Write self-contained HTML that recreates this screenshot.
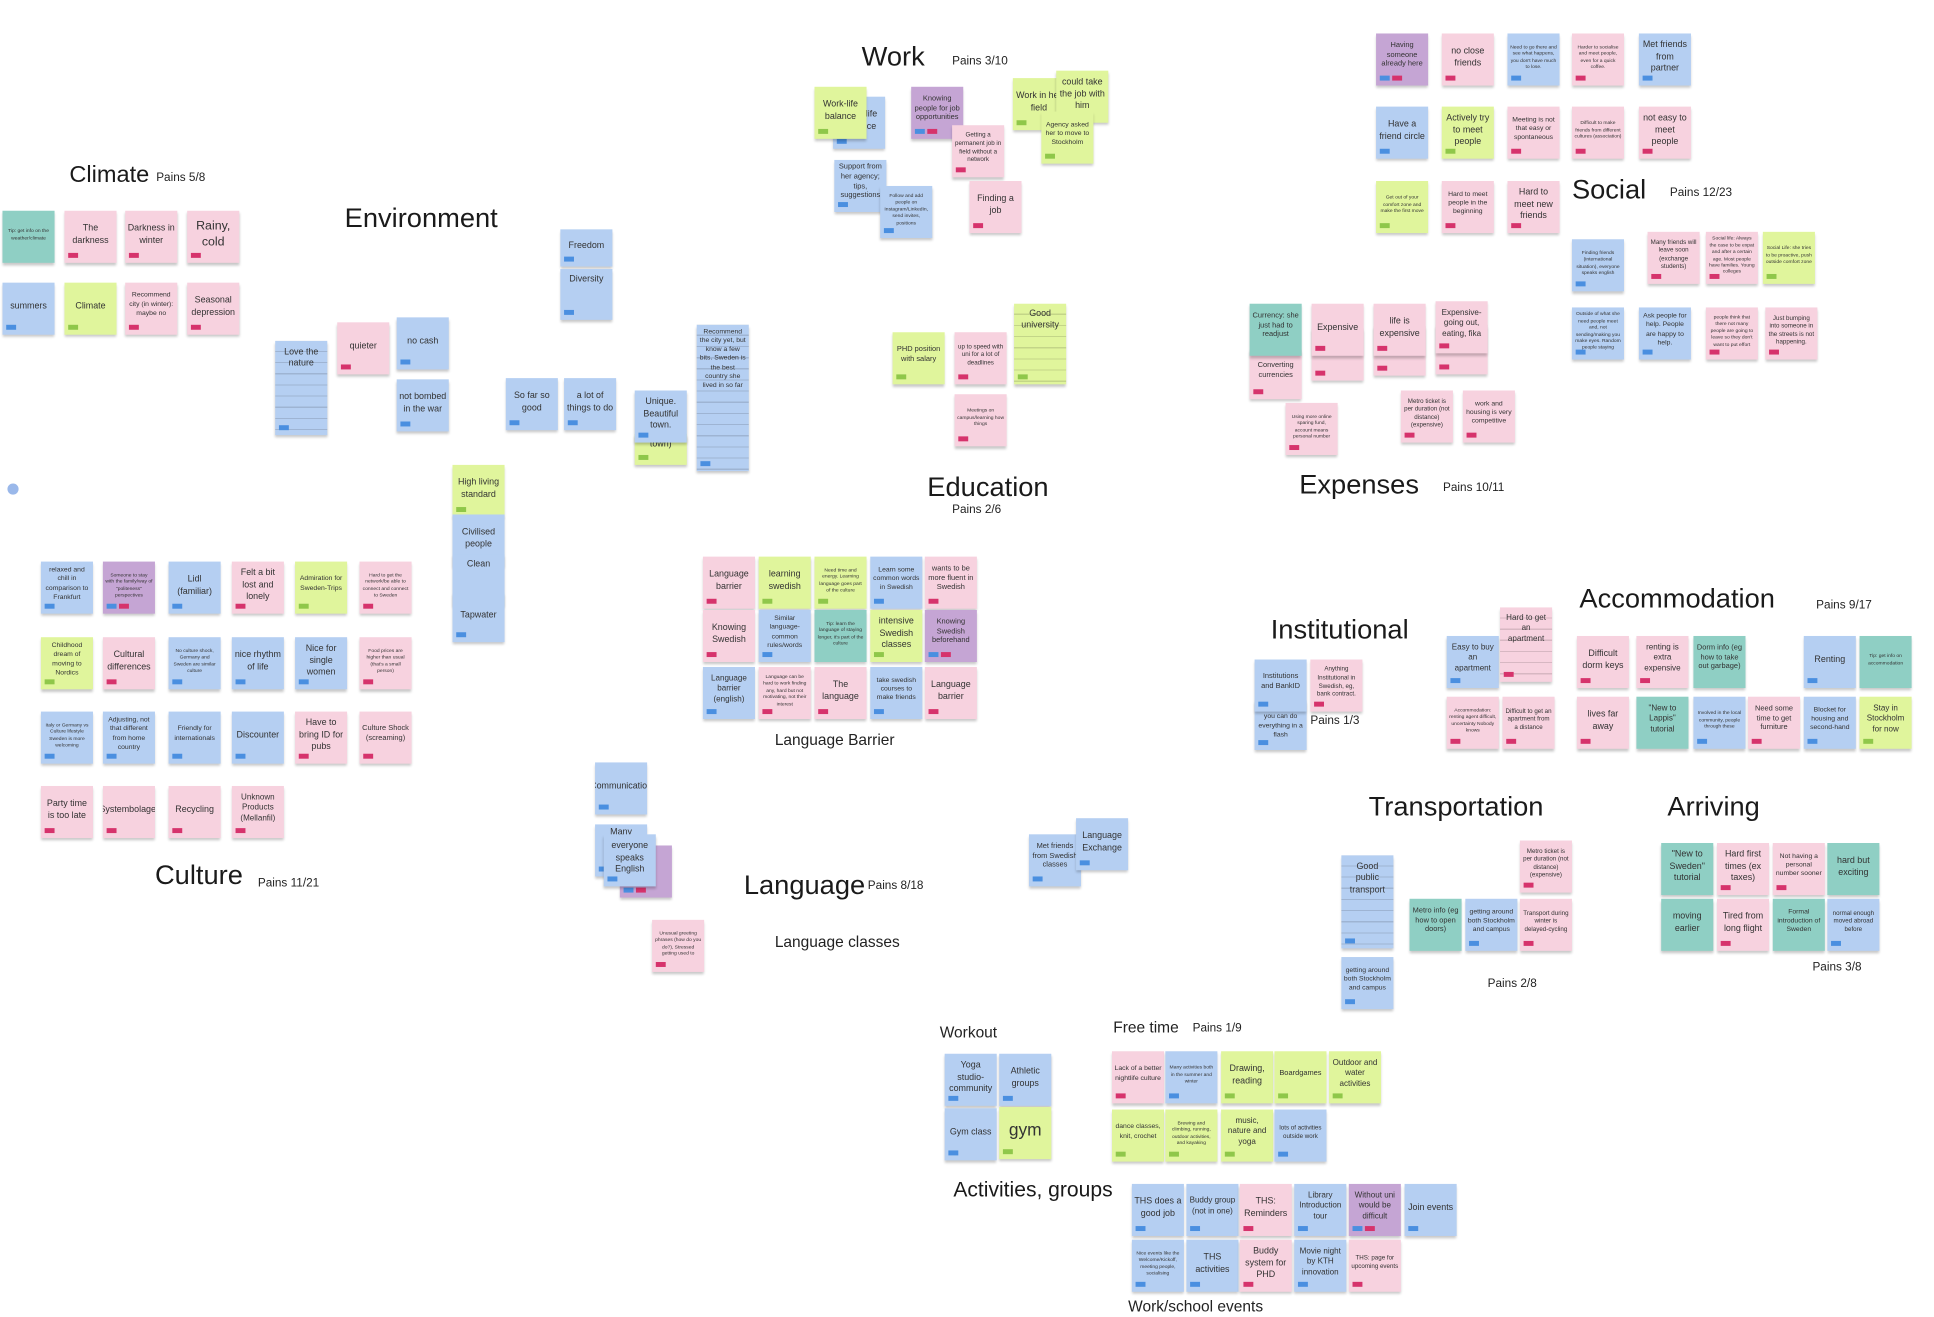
<!DOCTYPE html>
<html><head><meta charset="utf-8">
<style>
html,body{margin:0;padding:0;background:#fff;width:1934px;height:1316px;overflow:hidden}
#w{position:absolute;left:0;top:0;width:1560px;height:1062px;transform:scale(1.2397);transform-origin:0 0;font-family:"Liberation Sans","DejaVu Sans",sans-serif;color:#222}
.n{position:absolute;width:42px;height:42px;box-sizing:border-box;padding:3px 2px 8px;font-size:7.2px;line-height:1.3;text-align:center;display:flex;align-items:center;justify-content:center;box-shadow:0 2px 2px rgba(0,0,0,.22);color:#333;overflow:hidden}
.n.s{font-size:4px;line-height:1.35}
.n.l{font-size:10px}
.p{background:#f7d2df}.b{background:#b5cff2}.g{background:#e0f59c}.u{background:#c5a5d4}.t{background:#8fcfc4}
.n::after{content:"";position:absolute;left:3px;bottom:4px;width:8px;height:4px}
.p::after{background:#d6336c}.b::after{background:#4a8fe0}.g::after{background:#8fc74a}.u::after{background:#4a8fe0;box-shadow:10px 0 0 #d6336c}.t::after{display:none}
.n.x::after{display:none}
.st{background-image:repeating-linear-gradient(to bottom,transparent 0,transparent 8px,rgba(0,0,0,.13) 8px,rgba(0,0,0,.13) 9px)}
.h{position:absolute;font-size:22px;white-space:nowrap;color:#1a1a1a}
.m{position:absolute;font-size:9.5px;white-space:nowrap;color:#222}
.k{position:absolute;font-size:12.5px;white-space:nowrap;color:#222}
</style></head><body><div id="w">

<!-- Climate -->
<div class="h" style="left:56px;top:131px;font-size:19px">Climate</div><div class="m" style="left:126px;top:138px">Pains 5/8</div>
<div class="n t s" style="left:2px;top:170px">Tip: get info on the weather/climate</div>
<div class="n p" style="left:52px;top:170px">The darkness</div>
<div class="n p" style="left:101px;top:170px">Darkness in winter</div>
<div class="n p l" style="left:151px;top:170px">Rainy, cold</div>
<div class="n b" style="left:2px;top:228px">summers</div>
<div class="n g" style="left:52px;top:228px">Climate</div>
<div class="n p s" style="left:101px;top:228px;font-size:5.5px">Recommend city (in winter): maybe no</div>
<div class="n p" style="left:151px;top:228px">Seasonal depression</div>

<!-- Environment -->
<div class="h" style="left:278px;top:163px">Environment</div>
<div class="n b st" style="left:222px;top:275px;height:76px;align-items:flex-start;padding-top:4px">Love the nature</div>
<div class="n p" style="left:272px;top:260px">quieter</div>
<div class="n b" style="left:320px;top:256px">no cash</div>
<div class="n b" style="left:320px;top:306px">not bombed in the war</div>
<div class="n b" style="left:408px;top:305px">So far so good</div>
<div class="n b" style="left:455px;top:305px">a lot of things to do</div>
<div class="n b" style="left:452px;top:185px;height:30px">Freedom</div>
<div class="n b" style="left:452px;top:217px;height:41px;align-items:flex-start">Diversity</div>
<div class="n g" style="left:512px;top:350px;height:25px;align-items:flex-start">town)</div>
<div class="n b" style="left:512px;top:315px">Unique. Beautiful town.</div>
<div class="n b st" style="left:562px;top:262px;height:118px;align-items:flex-start;font-size:5.5px">Recommend the city yet, but know a few bits. Sweden is the best country she lived in so far</div>
<div class="n g" style="left:365px;top:375px">High living standard</div>
<div class="n b" style="left:365px;top:415px">Civilised people</div>
<div class="n b" style="left:365px;top:447px;align-items:flex-start">Clean</div>
<div class="n b" style="left:365px;top:478px;height:40px">Tapwater</div>
<div style="position:absolute;left:6px;top:390px;width:9px;height:9px;border-radius:50%;background:#9ab8ea"></div>

<!-- Work -->
<div class="h" style="left:695px;top:33px">Work</div><div class="m" style="left:768px;top:44px">Pains 3/10</div>
<div class="n b" style="left:672px;top:78px;padding-left:22px">life ce</div>
<div class="n g" style="left:657px;top:70px">Work-life balance</div>
<div class="n u" style="left:735px;top:70px;font-size:6px">Knowing people for job opportunities</div>
<div class="n p s" style="left:768px;top:101px;font-size:5px">Getting a permanent job in field without a network</div>
<div class="n b" style="left:673px;top:129px;font-size:6px">Support from her agency; tips, suggestions</div>
<div class="n b s" style="left:710px;top:150px">Follow and add people on Instagram/LinkedIn, send invites, positions</div>
<div class="n p" style="left:782px;top:146px">Finding a job</div>
<div class="n g" style="left:817px;top:63px">Work in her field</div>
<div class="n g x" style="left:852px;top:57px">could take the job with him</div>
<div class="n g" style="left:840px;top:90px;font-size:5.5px">Agency asked her to move to Stockholm</div>

<!-- Social -->
<div class="n u" style="left:1110px;top:27px;font-size:6px">Having someone already here</div>
<div class="n p" style="left:1163px;top:27px">no close friends</div>
<div class="n b s" style="left:1216px;top:27px">Need to go there and see what happens, you don't have much to lose.</div>
<div class="n p s" style="left:1268px;top:27px">Harder to socialise and meet people, even for a quick coffee.</div>
<div class="n b" style="left:1322px;top:27px">Met friends from partner</div>
<div class="n b" style="left:1110px;top:86px">Have a friend circle</div>
<div class="n g" style="left:1163px;top:86px">Actively try to meet people</div>
<div class="n p" style="left:1216px;top:86px;font-size:5.5px">Meeting is not that easy or spontaneous</div>
<div class="n p s" style="left:1268px;top:86px">Difficult to make friends from different cultures (association)</div>
<div class="n p" style="left:1322px;top:86px">not easy to meet people</div>
<div class="n g s" style="left:1110px;top:146px">Get out of your comfort zone and make the first move</div>
<div class="n p" style="left:1163px;top:146px;font-size:5.5px">Hard to meet people in the beginning</div>
<div class="n p" style="left:1216px;top:146px">Hard to meet new friends</div>
<div class="h" style="left:1268px;top:140px">Social</div><div class="m" style="left:1347px;top:150px">Pains 12/23</div>
<div class="n b s" style="left:1268px;top:193px">Finding friends (international situation), everyone speaks english</div>
<div class="n p" style="left:1329px;top:187px;font-size:5px">Many friends will leave soon (exchange students)</div>
<div class="n p s" style="left:1376px;top:187px">Social life: Always the case to be expat and after a certain age. Most people have families. Young colleges</div>
<div class="n g s" style="left:1422px;top:187px">Social Life: she tries to be proactive, push outside comfort zone</div>
<div class="n b s" style="left:1268px;top:248px">Outside of what she need people meet and, not sending/making you make eyes. Random people staying</div>
<div class="n b" style="left:1322px;top:248px;font-size:5.5px">Ask people for help. People are happy to help.</div>
<div class="n p s" style="left:1376px;top:248px">people think that there not many people are going to leave so they don't want to put effort</div>
<div class="n p" style="left:1424px;top:248px;font-size:5px">Just bumping into someone in the streets is not happening.</div>

<!-- Expenses -->
<div class="n p" style="left:1008px;top:282px;height:40px;font-size:6px">Converting currencies</div>
<div class="n t" style="left:1008px;top:245px;font-size:6px">Currency: she just had to readjust</div>
<div class="n p" style="left:1058px;top:265px;height:42px"></div>
<div class="n p" style="left:1058px;top:245px">Expensive</div>
<div class="n p" style="left:1108px;top:263px;height:40px"></div>
<div class="n p" style="left:1108px;top:245px">life is expensive</div>
<div class="n p" style="left:1158px;top:262px;height:40px"></div>
<div class="n p" style="left:1158px;top:243px;font-size:6.5px">Expensive-going out, eating, fika</div>
<div class="n p s" style="left:1037px;top:325px">Using more online sparing fund, account means personal number</div>
<div class="n p" style="left:1130px;top:315px;font-size:5px">Metro ticket is per duration (not distance) (expensive)</div>
<div class="n p" style="left:1180px;top:315px;font-size:5.5px">work and housing is very competitive</div>
<div class="h" style="left:1048px;top:378px">Expenses</div><div class="m" style="left:1164px;top:388px">Pains 10/11</div>

<!-- Education -->
<div class="n g" style="left:720px;top:268px;font-size:6px">PHD position with salary</div>
<div class="n p" style="left:770px;top:268px;font-size:5px">up to speed with uni for a lot of deadlines</div>
<div class="n g st" style="left:818px;top:245px;height:65px;align-items:flex-start">Good university</div>
<div class="n p s" style="left:770px;top:318px">Meetings on campus/learning how things</div>
<div class="h" style="left:748px;top:380px">Education</div><div class="m" style="left:768px;top:406px">Pains 2/6</div>

<!-- Language Barrier -->
<div class="n p" style="left:567px;top:449px">Language barrier</div>
<div class="n g" style="left:612px;top:449px">learning swedish</div>
<div class="n g s" style="left:657px;top:449px">Need time and energy. Learning language goes part of the culture</div>
<div class="n b" style="left:702px;top:449px;font-size:5.5px">Learn some common words in Swedish</div>
<div class="n p" style="left:746px;top:449px;font-size:6px">wants to be more fluent in Swedish</div>
<div class="n p" style="left:567px;top:492px">Knowing Swedish</div>
<div class="n b" style="left:612px;top:492px;font-size:5.5px">Similar language- common rules/words</div>
<div class="n t s" style="left:657px;top:492px">Tip: learn the language of staying longer, it's part of the culture</div>
<div class="n g" style="left:702px;top:492px">intensive Swedish classes</div>
<div class="n u" style="left:746px;top:492px;font-size:6px">Knowing Swedish beforehand</div>
<div class="n b" style="left:567px;top:538px;font-size:6.5px">Language barrier (english)</div>
<div class="n p s" style="left:612px;top:538px">Language can be hard to work finding any, hard but not motivating, not their interest</div>
<div class="n p" style="left:657px;top:538px">The language</div>
<div class="n b" style="left:702px;top:538px;font-size:5.5px">take swedish courses to make friends</div>
<div class="n p" style="left:746px;top:538px">Language barrier</div>
<div class="k" style="left:625px;top:590px">Language Barrier</div>

<!-- Institutional -->
<div class="h" style="left:1025px;top:495px">Institutional</div>
<div class="n b" style="left:1012px;top:565px;height:40px;font-size:5.5px">With BankID you can do everything in a flash</div>
<div class="n b" style="left:1012px;top:532px;font-size:6px">Institutions and BankID</div>
<div class="n p s" style="left:1057px;top:532px;font-size:5px">Anything Institutional in Swedish, eg, bank contract.</div>
<div class="m" style="left:1057px;top:576px">Pains 1/3</div>
<div class="n b" style="left:1167px;top:513px;font-size:6.5px">Easy to buy an apartment</div>
<div class="n p st" style="left:1210px;top:490px;height:60px;align-items:flex-start;padding-top:5px;font-size:6.5px">Hard to get an apartment</div>
<div class="n p s" style="left:1167px;top:562px">Accommodation: renting agent difficult, uncertainty Nobody knows</div>
<div class="n p" style="left:1212px;top:562px;font-size:5px">Difficult to get an apartment from a distance</div>

<!-- Accommodation -->
<div class="h" style="left:1274px;top:470px">Accommodation</div><div class="m" style="left:1465px;top:483px">Pains 9/17</div>
<div class="n p" style="left:1272px;top:513px">Difficult dorm keys</div>
<div class="n p" style="left:1320px;top:513px;font-size:6.5px">renting is extra expensive</div>
<div class="n t" style="left:1366px;top:513px;font-size:6px">Dorm info (eg how to take out garbage)</div>
<div class="n b" style="left:1455px;top:513px">Renting</div>
<div class="n t s" style="left:1500px;top:513px">Tip: get info on accommodation</div>
<div class="n p" style="left:1272px;top:562px">lives far away</div>
<div class="n t" style="left:1320px;top:562px;font-size:6.5px">"New to Lappis" tutorial</div>
<div class="n b s" style="left:1366px;top:562px">Involved in the local community, people through these</div>
<div class="n p" style="left:1410px;top:562px;font-size:6px">Need some time to get furniture</div>
<div class="n b" style="left:1455px;top:562px;font-size:5.5px">Blocket for housing and second-hand</div>
<div class="n g" style="left:1500px;top:562px;font-size:6.5px">Stay in Stockholm for now</div>

<!-- Culture -->
<div class="n b" style="left:33px;top:453px;font-size:5.5px">relaxed and chill in comparison to Frankfurt</div>
<div class="n u s" style="left:83px;top:453px">Someone to stay with the family/way of "politeness" perspectives</div>
<div class="n b" style="left:136px;top:453px">Lidl (familiar)</div>
<div class="n p" style="left:187px;top:453px">Felt a bit lost and lonely</div>
<div class="n g" style="left:238px;top:453px;font-size:5.5px">Admiration for Sweden-Trips</div>
<div class="n p s" style="left:290px;top:453px">Hard to get the network/be able to connect and connect to Sweden</div>
<div class="n g" style="left:33px;top:514px;font-size:5.5px">Childhood dream of moving to Nordics</div>
<div class="n p" style="left:83px;top:514px">Cultural differences</div>
<div class="n b s" style="left:136px;top:514px">No culture shock, Germany and Sweden are similar culture</div>
<div class="n b" style="left:187px;top:514px">nice rhythm of life</div>
<div class="n b" style="left:238px;top:514px">Nice for single women</div>
<div class="n p s" style="left:290px;top:514px">Food prices are higher than usual (that's a small person)</div>
<div class="n b s" style="left:33px;top:574px">Italy or Germany vs Culture lifestyle Sweden is more welcoming</div>
<div class="n b" style="left:83px;top:574px;font-size:5.5px">Adjusting, not that different from home country</div>
<div class="n b" style="left:136px;top:574px;font-size:5.5px">Friendly for internationals</div>
<div class="n b" style="left:187px;top:574px">Discounter</div>
<div class="n p" style="left:238px;top:574px">Have to bring ID for pubs</div>
<div class="n p" style="left:290px;top:574px;font-size:6px">Culture Shock (screaming)</div>
<div class="n p" style="left:33px;top:634px">Party time is too late</div>
<div class="n p" style="left:83px;top:634px">Systembolaget</div>
<div class="n p" style="left:136px;top:634px">Recycling</div>
<div class="n p" style="left:187px;top:634px;font-size:6.5px">Unknown Products (Mellanfil)</div>
<div class="h" style="left:125px;top:693px">Culture</div><div class="m" style="left:208px;top:707px">Pains 11/21</div>

<!-- Language -->
<div class="n b" style="left:480px;top:615px">Communication</div>
<div class="n u" style="left:500px;top:682px"></div>
<div class="n b" style="left:480px;top:665px;align-items:flex-start;padding-top:1px">Many</div>
<div class="n b" style="left:487px;top:673px">everyone speaks English</div>
<div class="n p s" style="left:526px;top:742px">Unusual greeting phrases (how do you do?), Stressed getting used to</div>
<div class="h" style="left:600px;top:701px">Language</div><div class="m" style="left:700px;top:709px">Pains 8/18</div>
<div class="k" style="left:625px;top:753px">Language classes</div>
<div class="n b" style="left:830px;top:673px;font-size:6px">Met friends from Swedish classes</div>
<div class="n b" style="left:868px;top:660px">Language Exchange</div>

<!-- Transportation -->
<div class="h" style="left:1104px;top:638px">Transportation</div>
<div class="n b st" style="left:1082px;top:690px;height:75px;align-items:flex-start;padding-top:4px">Good public transport</div>
<div class="n b" style="left:1082px;top:772px;font-size:5.5px">getting around both Stockholm and campus</div>
<div class="n t" style="left:1137px;top:725px;font-size:6px">Metro info (eg how to open doors)</div>
<div class="n b" style="left:1182px;top:725px;font-size:5.5px">getting around both Stockholm and campus</div>
<div class="n p" style="left:1226px;top:678px;font-size:5px">Metro ticket is per duration (not distance) (expensive)</div>
<div class="n p" style="left:1226px;top:725px;font-size:5px">Transport during winter is delayed-cycling</div>
<div class="m" style="left:1200px;top:788px">Pains 2/8</div>

<!-- Arriving -->
<div class="h" style="left:1345px;top:638px">Arriving</div>
<div class="n t" style="left:1340px;top:680px">"New to Sweden" tutorial</div>
<div class="n p" style="left:1385px;top:680px">Hard first times (ex taxes)</div>
<div class="n p" style="left:1430px;top:680px;font-size:5.5px">Not having a personal number sooner</div>
<div class="n t" style="left:1474px;top:680px">hard but exciting</div>
<div class="n t" style="left:1340px;top:725px">moving earlier</div>
<div class="n p" style="left:1385px;top:725px">Tired from long flight</div>
<div class="n t" style="left:1430px;top:725px;font-size:5.5px">Formal introduction of Sweden</div>
<div class="n b" style="left:1474px;top:725px;font-size:5px">normal enough moved abroad before</div>
<div class="m" style="left:1462px;top:775px">Pains 3/8</div>

<!-- Workout / Free time -->
<div class="k" style="left:758px;top:826px">Workout</div>
<div class="n b" style="left:762px;top:850px">Yoga studio-community</div>
<div class="n b" style="left:806px;top:850px">Athletic groups</div>
<div class="n b" style="left:762px;top:894px">Gym class</div>
<div class="n g" style="left:806px;top:893px;font-size:14px">gym</div>
<div class="k" style="left:898px;top:822px">Free time</div><div class="m" style="left:962px;top:824px">Pains 1/9</div>
<div class="n p" style="left:897px;top:848px;font-size:5.5px">Lack of a better nightlife culture</div>
<div class="n b s" style="left:940px;top:848px">Many activities both in the summer and winter</div>
<div class="n g" style="left:985px;top:848px">Drawing, reading</div>
<div class="n g" style="left:1028px;top:848px;font-size:6px">Boardgames</div>
<div class="n g" style="left:1072px;top:848px;font-size:6.5px">Outdoor and water activities</div>
<div class="n g" style="left:897px;top:895px;font-size:5.5px">dance classes, knit, crochet</div>
<div class="n g s" style="left:940px;top:895px">Brewing and climbing, running, outdoor activities, and kayaking</div>
<div class="n g" style="left:985px;top:895px;font-size:6.5px">music, nature and yoga</div>
<div class="n b" style="left:1028px;top:895px;font-size:5px">lots of activities outside work</div>
<div class="h" style="left:769px;top:950px;font-size:17px">Activities, groups</div>
<div class="n b" style="left:913px;top:955px">THS does a good job</div>
<div class="n b" style="left:957px;top:955px;font-size:6.5px">Buddy group (not in one)</div>
<div class="n p" style="left:1000px;top:955px">THS: Reminders</div>
<div class="n b" style="left:1044px;top:955px;font-size:6.5px">Library Introduction tour</div>
<div class="n u" style="left:1088px;top:955px;font-size:6.5px">Without uni would be difficult</div>
<div class="n b" style="left:1133px;top:955px">Join events</div>
<div class="n b s" style="left:913px;top:1000px">Nice events like the Welcome/Kickoff, meeting people, socialising</div>
<div class="n b" style="left:957px;top:1000px">THS activities</div>
<div class="n p" style="left:1000px;top:1000px">Buddy system for PHD</div>
<div class="n b" style="left:1044px;top:1000px;font-size:6.5px">Movie night by KTH innovation</div>
<div class="n p" style="left:1088px;top:1000px;font-size:5px">THS: page for upcoming events</div>
<div class="k" style="left:910px;top:1047px">Work/school events</div>

</div></body></html>
